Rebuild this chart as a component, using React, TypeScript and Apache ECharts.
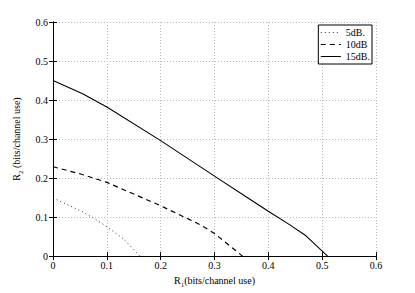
import React, { useEffect, useRef } from "react";
import * as echarts from "echarts";

const seriesNames = ["5dB.", "10dB", "15dB."];

const r1_5dB = [0, 0.056, 0.1, 0.13, 0.162];
const r2_5dB = [0.149, 0.113, 0.076, 0.045, 0];

const r1_10dB = [0, 0.05, 0.1, 0.2, 0.274, 0.3, 0.352];
const r2_10dB = [0.229, 0.211, 0.189, 0.129, 0.08, 0.058, 0];

const r1_15dB = [0, 0.055, 0.1, 0.2, 0.3, 0.36, 0.4, 0.44, 0.47, 0.51];
const r2_15dB = [0.45, 0.416, 0.382, 0.296, 0.205, 0.151, 0.115, 0.08, 0.052, 0];

const axisTicks = [0, 0.1, 0.2, 0.3, 0.4, 0.5, 0.6];

const FONT = "Liberation Serif";

function pairs(xs: number[], ys: number[]) {
  return xs.map((x, i) => [x, ys[i]]);
}

export default function App() {
  const ref = useRef<HTMLDivElement>(null);
  useEffect(() => {
    if (!ref.current) return;
    const chart = echarts.init(ref.current, undefined, { renderer: "svg" });
    const labelFmt = (v: number) => (v === 0 ? "0" : String(Number(v.toFixed(1))));
    const baseAxis = {
      type: "value" as const,
      min: axisTicks[0],
      max: axisTicks[axisTicks.length - 1],
      interval: 0.1,
    };
    const rich = {
      a: { fontFamily: FONT, fontSize: 10, color: "#000", lineHeight: 13, verticalAlign: "top" as const },
      s: { fontFamily: FONT, fontSize: 7, color: "#000", lineHeight: 8, verticalAlign: "bottom" as const },
    };
    chart.setOption({
      animation: false,
      grid: { left: 53, right: 39, top: 22, bottom: 33 },
      legend: {
        right: 43,
        top: 25,
        orient: "vertical",
        backgroundColor: "#fff",
        borderColor: "#000",
        borderWidth: 1,
        borderRadius: 0,
        padding: [2, 2, 2, 2],
        itemWidth: 20,
        itemHeight: 10,
        itemGap: 1,
        itemStyle: { opacity: 0 },
        lineStyle: { width: 1 },
        textStyle: { fontFamily: FONT, fontSize: 10, color: "#000", width: 24, align: "right", lineHeight: 11 },
        data: seriesNames,
      },
      xAxis: [
        {
          ...baseAxis,
          position: "bottom",
          name: "{a|R}{s|1}{a|(bits/channel use)}",
          nameLocation: "middle",
          nameGap: 8,
          nameTextStyle: { rich },
          axisLine: { lineStyle: { color: "#000", width: 1 } },
          axisTick: { inside: true, length: 4, lineStyle: { color: "#000" } },
          axisLabel: { fontFamily: FONT, fontSize: 10, color: "#000", margin: 4, formatter: labelFmt },
          splitLine: { show: true, lineStyle: { color: "#bbb", type: [1, 2], width: 1 } },
        },
        {
          ...baseAxis,
          position: "top",
          axisLine: { lineStyle: { color: "#000", width: 1 } },
          axisTick: { inside: true, length: 4, lineStyle: { color: "#000" } },
          axisLabel: { show: false },
          splitLine: { show: false },
        },
      ],
      yAxis: [
        {
          ...baseAxis,
          position: "left",
          name: "{a|R}{s|2}{a| (bits/channel use)}",
          nameLocation: "middle",
          nameGap: 15,
          nameRotate: 90,
          nameTextStyle: { rich },
          axisLine: { show: true, lineStyle: { color: "#000", width: 1 } },
          axisTick: { show: true, inside: true, length: 4, lineStyle: { color: "#000" } },
          axisLabel: { fontFamily: FONT, fontSize: 10, color: "#000", margin: 5, formatter: labelFmt },
          splitLine: { show: true, lineStyle: { color: "#bbb", type: [1, 2], width: 1 } },
        },
        {
          ...baseAxis,
          position: "right",
          axisLine: { show: true, lineStyle: { color: "#000", width: 1 } },
          axisTick: { show: true, inside: true, length: 4, lineStyle: { color: "#000" } },
          axisLabel: { show: false },
          splitLine: { show: false },
        },
      ],
      series: [
        {
          name: seriesNames[0],
          type: "line",
          data: pairs(r1_5dB, r2_5dB),
          showSymbol: false,
          symbol: "none",
          lineStyle: { color: "#333", width: 1, type: [1, 3] },
          itemStyle: { color: "#333" },
        },
        {
          name: seriesNames[1],
          type: "line",
          data: pairs(r1_10dB, r2_10dB),
          showSymbol: false,
          symbol: "none",
          lineStyle: { color: "#000", width: 1.2, type: [5, 4] },
          itemStyle: { color: "#000" },
        },
        {
          name: seriesNames[2],
          type: "line",
          data: pairs(r1_15dB, r2_15dB),
          showSymbol: false,
          symbol: "none",
          lineStyle: { color: "#000", width: 1.1, type: "solid" },
          itemStyle: { color: "#000" },
        },
      ],
    });
    return () => chart.dispose();
  }, []);
  return (
    <div
      ref={ref}
      style={{ position: "fixed", left: 0, top: 0, width: 415, height: 293, background: "#fff" }}
    />
  );
}
